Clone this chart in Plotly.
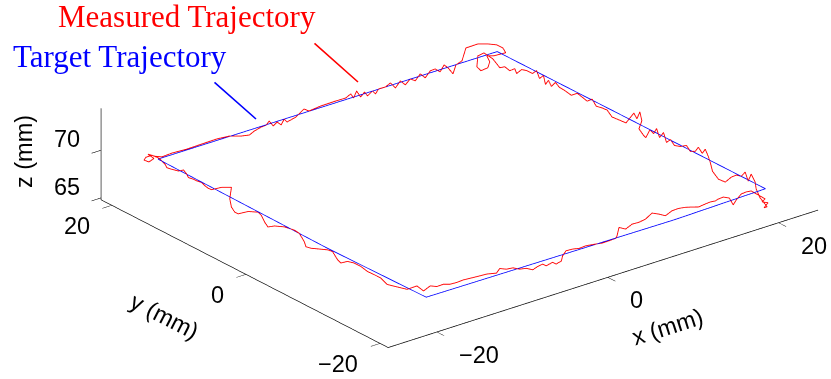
import plotly.graph_objects as go

# ---- target (blue) trajectory: square corners, mm ----
target_x = [-20.3, 19.4, 19.4, 8.85, -20.3, -20.3, -20.3]
target_y = [20.0, 20.0, -20.0, -20.0, -20.0, -5.3, 20.0]
target_z = [68.1, 68.0, 68.1, 67.9, 68.1, 67.9, 68.1]

# ---- measured (red) trajectory, read edge by edge ----
# edge 1: along x at y = 20
seg1_y = 20.0
seg1_x = [-20.19, -21.0, -21.7, -21.93, -21.35, -20.77, -21.47, -20.65, -19.84, -18.67,
          -16.93, -15.19, -13.44, -11.93, -10.53, -9.6, -9.02, -8.21, -7.63, -7.28,
          -6.81, -6.35, -5.88, -5.53, -5.19, -4.14, -3.21, -2.63, -1.23, 0.51,
          1.67, 2.26, 2.6, 2.95, 3.42, 3.88, 4.23, 4.81, 5.16, 5.51,
          6.33, 6.91, 7.49, 8.07, 8.65, 9.23, 9.81, 10.4, 10.98, 11.56,
          12.14, 12.72, 13.19, 13.65, 14.23, 14.58, 15.28, 15.74, 16.44, 17.14,
          18.3, 19.35, 20.05, 20.4, 19.0, 18.19, 18.53, 18.3, 17.49, 17.02,
          17.14, 17.84, 18.88]
seg1_z = [68.17, 68.7, 68.7, 68.46, 68.1, 68.3, 68.95, 68.5, 68.2, 68.26,
          68.18, 68.21, 68.24, 68.12, 67.72, 67.56, 67.81, 68.0, 68.04, 68.36,
          67.71, 67.99, 67.55, 68.07, 67.66, 67.89, 68.46, 68.08, 68.21, 68.23,
          68.21, 68.47, 67.95, 68.58, 67.82, 68.21, 67.7, 68.05, 67.64, 68.06,
          68.04, 68.29, 67.6, 68.17, 67.59, 68.05, 67.68, 68.24, 67.66, 68.22,
          68.26, 67.79, 68.38, 67.94, 67.15, 67.99, 68.21, 69.43, 69.44, 69.45,
          69.12, 68.72, 68.21, 67.59, 67.67, 67.9, 67.18, 66.62, 66.54, 67.09,
          68.2, 68.31, 67.39]

# edge 2: along y at x = 19.4
seg2_x = 19.4
seg2_y = [19.61, 18.87, 18.13, 17.39, 17.1, 16.36, 15.61, 14.73, 14.13, 13.69,
          13.1, 12.8, 12.36, 11.91, 11.32, 10.73, 9.99, 8.95, 8.06, 7.32,
          6.58, 5.84, 5.24, 4.36, 3.61, 2.87, 1.84, 0.8, -0.39, -0.83,
          -1.27, -1.57, -1.13, -1.87, -2.16, -2.76, -3.32, -3.76, -4.21, -4.8,
          -5.24, -5.84, -6.43, -7.33, -8.21, -8.8, -9.54, -9.99, -10.58, -11.02,
          -11.47, -11.76, -12.1, -12.99, -14.01, -14.9, -15.64, -16.39, -16.98, -17.42,
          -17.87, -18.46, -18.61, -19.2, -19.79, -20.24, -19.79, -20.38, -19.5, -19.94]
seg2_z = [66.45, 66.82, 66.67, 67.15, 66.75, 67.43, 67.6, 67.61, 68.13, 67.46,
          68.0, 67.16, 67.75, 67.28, 67.91, 67.61, 67.57, 67.42, 67.95, 67.81,
          67.66, 68.14, 67.62, 67.75, 67.8, 67.34, 67.41, 67.47, 68.94, 68.49,
          69.38, 68.55, 67.55, 67.09, 67.0, 68.04, 67.84, 68.53, 67.75, 68.49,
          67.61, 68.13, 67.72, 67.94, 68.37, 67.96, 68.24, 68.82, 68.4, 68.99,
          68.41, 67.9, 67.07, 66.56, 66.63, 67.47, 67.95, 68.1, 68.75, 67.97,
          68.86, 68.25, 67.57, 66.85, 66.55, 66.29, 66.03, 66.77, 66.54, 67.02]

# edge 3: along x at y = -20
seg3_y = -20.0
seg3_x = [17.72, 17.14, 16.56, 15.98, 15.63, 15.16, 14.47, 13.88, 13.53, 12.95,
          12.37, 11.56, 10.74, 10.01, 9.23, 8.45, 7.69, 6.91, 6.13, 5.36,
          4.58, 3.8, 3.03, 2.26, 2.02, 1.87, 1.09, 0.31, -0.45, -1.62,
          -2.4, -3.17, -3.94, -4.34, -4.49, -5.1, -5.5, -6.27, -6.66, -7.24,
          -7.83, -8.59, -9.37, -10.15, -10.92, -11.7, -12.08, -13.24, -14.02, -14.8,
          -15.97, -16.73, -17.51, -18.29, -19.06]
seg3_z = [68.35, 68.41, 68.36, 67.9, 67.49, 68.34, 68.64, 68.6, 68.5, 68.56,
          68.52, 68.43, 68.66, 68.84, 68.95, 68.92, 68.62, 69.02, 69.35, 68.94,
          68.82, 68.86, 68.56, 68.95, 68.12, 67.92, 67.89, 67.87, 67.99, 68.14,
          68.09, 68.24, 68.28, 67.87, 67.36, 67.22, 67.52, 67.37, 67.66, 67.59,
          67.4, 67.77, 67.91, 68.27, 68.35, 68.64, 68.27, 68.5, 68.54, 68.59,
          68.67, 68.62, 68.66, 68.88, 68.86]

# edge 4: along y at x = -20.3
seg4_x = -20.3
seg4_y = [-20.59, -19.6, -18.62, -17.14, -16.15, -15.16, -14.18, -13.19, -12.19, -11.21,
          -10.22, -9.23, -8.25, -7.26, -6.77, -6.03, -5.29, -2.81, -2.07, -1.82,
          -1.08, -0.34, 0.4, 1.14, 2.62, 3.6, 4.1, 4.59, 5.08, 6.56,
          8.04, 8.55, 9.04, 9.29, 9.04, 10.52, 12.0, 12.49, 12.99, 13.48,
          14.22, 14.71, 15.45, 15.7, 16.19, 16.93, 17.93, 18.67, 18.92, 19.41]
seg4_z = [69.5, 68.61, 68.78, 67.89, 67.7, 67.51, 67.33, 67.66, 67.65, 67.63,
          67.8, 67.79, 67.6, 67.07, 67.24, 67.83, 67.74, 67.01, 66.9, 67.34,
          67.94, 68.02, 67.92, 67.82, 67.38, 66.92, 67.26, 67.78, 67.94, 67.47,
          66.69, 66.68, 67.03, 67.81, 69.11, 68.57, 67.79, 67.75, 67.84, 68.01,
          67.91, 67.91, 67.81, 68.07, 68.34, 67.96, 67.78, 67.68, 67.94, 68.1]

# axis settings
x_range = [-25.7, 24.6]
y_range = [-21.2, 21.6]
z_range = [64.8, 74.4]
x_ticks = [-20, 0, 20]
y_ticks = [-20, 0, 20]
z_ticks = [65, 70]
x_title, y_title, z_title = "x (mm)", "y (mm)", "z (mm)"

meas_x = (seg1_x + [seg2_x] * len(seg2_y) + seg3_x + [seg4_x] * len(seg4_y) + seg1_x[:1])
meas_y = ([seg1_y] * len(seg1_x) + seg2_y + [seg3_y] * len(seg3_x) + seg4_y + [seg1_y])
meas_z = (seg1_z + seg2_z + seg3_z + seg4_z + seg1_z[:1])

fig = go.Figure()
fig.add_trace(go.Scatter3d(x=meas_x, y=meas_y, z=meas_z, mode="lines",
                           line=dict(color="#ff0000", width=1.8),
                           name="Measured Trajectory", hoverinfo="skip"))
fig.add_trace(go.Scatter3d(x=target_x, y=target_y, z=target_z, mode="lines",
                           line=dict(color="#0000ff", width=1.6),
                           name="Target Trajectory", hoverinfo="skip"))

sans = "Liberation Sans, Arial, sans-serif"
serif = "Liberation Serif, Times New Roman, serif"
labelfont = dict(family=sans, size=23.5, color="black")


def axis(rng, ticks):
    return dict(title=dict(text=""), range=rng, tickvals=ticks,
                autorange=False, showbackground=False, showgrid=False,
                zeroline=False, showline=True, linecolor="black", linewidth=1.5,
                ticks="outside", ticklen=12, tickcolor="black", tickwidth=1.2,
                showticklabels=False, showspikes=False, showaxeslabels=False)


def fmt(v):
    return str(v).replace("-", "\u2212")


# tick labels anchored on the axis edges of the scene box
scene_labels = []
for v in x_ticks:
    scene_labels.append(dict(x=v, y=y_range[0], z=z_range[0], text=fmt(v),
                             showarrow=False, xanchor="left", yanchor="middle",
                             xshift=20, yshift=-23, font=labelfont))
for v in y_ticks:
    scene_labels.append(dict(x=x_range[0], y=v, z=z_range[0], text=fmt(v),
                             showarrow=False, xanchor="right", yanchor="middle",
                             xshift=-20, yshift=-21, font=labelfont))
for v in z_ticks:
    scene_labels.append(dict(x=x_range[0], y=y_range[1], z=v, text=fmt(v),
                             showarrow=False, xanchor="right", yanchor="middle",
                             xshift=-19, yshift=11, font=labelfont))

# camera: orthographic view direction, look-at offset and zoom via aspect ratio
view_dir = (-0.5658, -0.7179, 0.4057)
look_at = (-0.2226, 0.0928, -0.1462)
dist = 6.0
zoom = 2.888
fig.update_layout(
    width=831, height=379,
    margin=dict(l=0, r=0, t=0, b=0),
    paper_bgcolor="white",
    showlegend=False,
    hovermode=False,
    scene=dict(
        domain=dict(x=[0.0, 1.0], y=[0.0, 1.0]),
        xaxis=axis(x_range, x_ticks),
        yaxis=axis(y_range, y_ticks),
        zaxis=axis(z_range, z_ticks),
        aspectmode="manual",
        aspectratio=dict(x=1.0 * zoom, y=0.8474 * zoom, z=0.1830 * zoom),
        camera=dict(eye=dict(x=look_at[0] + dist * view_dir[0],
                             y=look_at[1] + dist * view_dir[1],
                             z=look_at[2] + dist * view_dir[2]),
                    up=dict(x=0, y=0, z=1),
                    center=dict(x=look_at[0], y=look_at[1], z=look_at[2]),
                    projection=dict(type="orthographic")),
        annotations=scene_labels,
    ),
    annotations=[
        dict(text="Measured Trajectory", xref="paper", yref="paper",
             x=56 / 831, y=1 - 16.6 / 379, xanchor="left", yanchor="middle",
             showarrow=False, font=dict(family=serif, size=31, color="#ff0000")),
        dict(text="Target Trajectory", xref="paper", yref="paper",
             x=11 / 831, y=1 - 56.6 / 379, xanchor="left", yanchor="middle",
             showarrow=False, font=dict(family=serif, size=31, color="#0000ff")),
        dict(text=" ", xref="paper", yref="paper", x=358 / 831, y=1 - 82 / 379,
             ax=-45, ay=-40, showarrow=True, arrowhead=0, arrowwidth=1.6,
             arrowcolor="#ff0000", font=dict(size=1), standoff=0, startstandoff=0),
        dict(text=" ", xref="paper", yref="paper", x=256 / 831, y=1 - 119 / 379,
             ax=-43, ay=-38, showarrow=True, arrowhead=0, arrowwidth=1.6,
             arrowcolor="#0000ff", font=dict(size=1), standoff=0, startstandoff=0),
        # axis titles, rotated along their axes
        dict(text=x_title, xref="paper", yref="paper", x=667 / 831, y=1 - 327 / 379,
             xanchor="center", yanchor="middle", textangle=-17.7, showarrow=False,
             font=labelfont),
        dict(text=y_title, xref="paper", yref="paper", x=164 / 831, y=1 - 316 / 379,
             xanchor="center", yanchor="middle", textangle=27.2, showarrow=False,
             font=labelfont),
        dict(text=z_title, xref="paper", yref="paper", x=24 / 831, y=1 - 152 / 379,
             xanchor="center", yanchor="middle", textangle=-90, showarrow=False,
             font=labelfont),
    ],
)

fig.write_html("out.html", config={"displayModeBar": False})
